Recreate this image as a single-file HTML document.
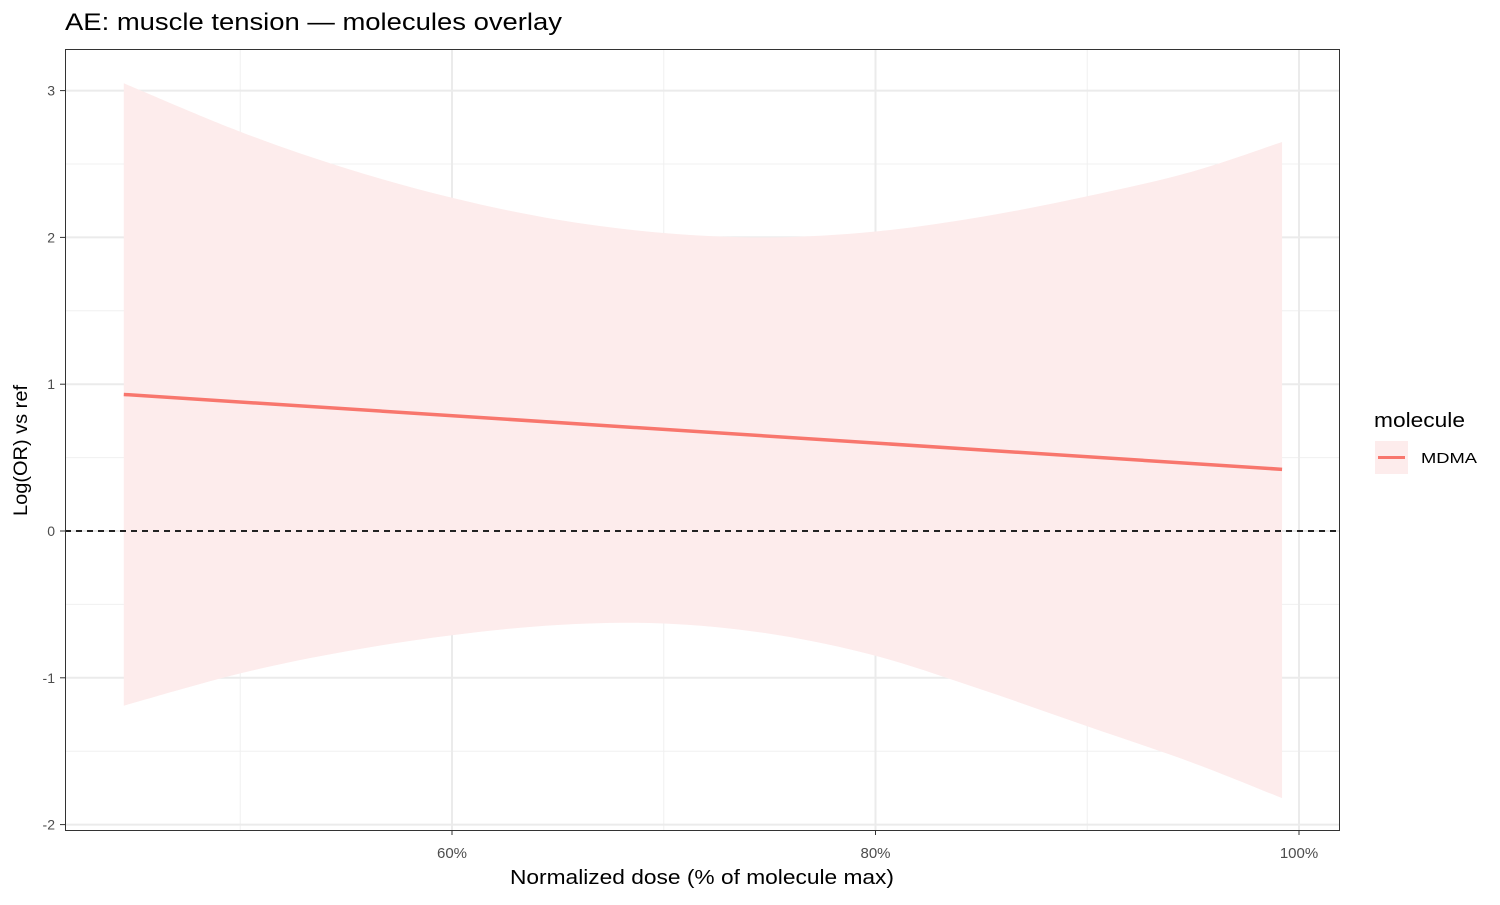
<!DOCTYPE html>
<html><head><meta charset="utf-8"><style>
body{margin:0;background:#fff;font-family:"Liberation Sans",Arial,sans-serif}
</style></head><body>
<svg width="1500" height="900" viewBox="0 0 1500 900" xmlns="http://www.w3.org/2000/svg" font-family="Liberation Sans, Arial, sans-serif">
<text x="65" y="30" font-size="24" textLength="497" lengthAdjust="spacingAndGlyphs" fill="#000">AE: muscle tension — molecules overlay</text>
<g id="grid"></g>
<g id="marks"></g>
<rect x="65.5" y="49.5" width="1274" height="781" fill="none" stroke="#333" stroke-width="1"/>
<g id="axes"></g>
<text x="510" y="884" font-size="20" textLength="384" lengthAdjust="spacingAndGlyphs" fill="#000">Normalized dose (% of molecule max)</text>
<text transform="translate(27,516) rotate(-90)" font-size="19" textLength="131" lengthAdjust="spacingAndGlyphs" fill="#000">Log(OR) vs ref</text>
<g>
<text x="1374" y="427" font-size="20" textLength="91" lengthAdjust="spacingAndGlyphs" fill="#000">molecule</text>
<rect x="1375" y="441" width="33" height="33" fill="#fdecec"/>
<line x1="1378" y1="457.5" x2="1405" y2="457.5" stroke="#f8766d" stroke-width="3"/>
<text x="1421" y="463" font-size="15" textLength="56" lengthAdjust="spacingAndGlyphs" fill="#000">MDMA</text>
</g>
</svg>
<script>
const xs=[44.5,50,55,60,65,70,75,80,85,90,95,99.2];
const upper=[3.05,2.72,2.47,2.27,2.12,2.03,2.00,2.04,2.14,2.28,2.45,2.65];
const lower=[-1.19,-0.97,-0.82,-0.71,-0.64,-0.63,-0.70,-0.85,-1.08,-1.33,-1.58,-1.82];
const lineX=[44.5,99.2];
const lineY=[0.93,0.42];
const xTicks=[60,80,100];
const xTickLabels=["60%","80%","100%"];
const yTicks=[-2,-1,0,1,2,3];
const ns="http://www.w3.org/2000/svg";
const X=v=>452+(v-60)*423.5/20;
const Y=v=>531-v*146.8;
function mk(tag,attrs,parent){const e=document.createElementNS(ns,tag);for(const k in attrs)e.setAttribute(k,attrs[k]);document.getElementById(parent).appendChild(e);return e;}
[50,70,90].forEach(v=>{const e=mk('line',{x1:X(v),x2:X(v),y1:49,y2:830,stroke:'#f0f0f0','stroke-width':1},'grid');

});
[-1.5,-0.5,0.5,1.5,2.5].forEach(v=>{const e=mk('line',{x1:65,x2:1339,y1:Y(v),y2:Y(v),stroke:'#f0f0f0','stroke-width':1},'grid');

});
xTicks.forEach((v,i)=>{const e=mk('line',{x1:X(v),x2:X(v),y1:49,y2:830,stroke:'#ebebeb','stroke-width':2},'grid');


const t=mk('line',{x1:X(v),x2:X(v),y1:830,y2:835,stroke:'#333'},'axes');


const l=mk('text',{x:X(v),y:858,'font-size':15,fill:'#4d4d4d','text-anchor':'middle'},'axes');l.textContent=xTickLabels[i];

});
yTicks.forEach(v=>{const e=mk('line',{x1:65,x2:1339,y1:Y(v),y2:Y(v),stroke:'#ebebeb','stroke-width':2},'grid');


const t=mk('line',{x1:60,x2:65,y1:Y(v),y2:Y(v),stroke:'#333'},'axes');


const l=mk('text',{x:55,y:Y(v)+5,'font-size':14,fill:'#4d4d4d','text-anchor':'end'},'axes');l.textContent=v;

});
function smooth(pts){let d='';for(let i=0;i<pts.length-1;i++){const p0=pts[Math.max(i-1,0)],p1=pts[i],p2=pts[i+1],p3=pts[Math.min(i+2,pts.length-1)];
const c1=[p1[0]+(p2[0]-p0[0])/6,p1[1]+(p2[1]-p0[1])/6],c2=[p2[0]-(p3[0]-p1[0])/6,p2[1]-(p3[1]-p1[1])/6];
d+=`C${c1[0]},${c1[1]} ${c2[0]},${c2[1]} ${p2[0]},${p2[1]}`;}return d;}
const up=xs.map((x,i)=>[X(x),Y(upper[i])]);
const lo=xs.map((x,i)=>[X(x),Y(lower[i])]).reverse();
const band=mk('path',{d:`M${up[0][0]},${up[0][1]}`+smooth(up)+`L${lo[0][0]},${lo[0][1]}`+smooth(lo)+'Z',fill:'#fdecec'},'marks');


const zero=mk('line',{x1:65,x2:1339,y1:Y(0),y2:Y(0),stroke:'#222','stroke-width':2,'stroke-dasharray':'6,5'},'marks');


const ln=mk('polyline',{points:lineX.map((x,i)=>X(x)+','+Y(lineY[i])).join(' '),fill:'none',stroke:'#f8766d','stroke-width':3.5},'marks');


</script>
</body></html>
